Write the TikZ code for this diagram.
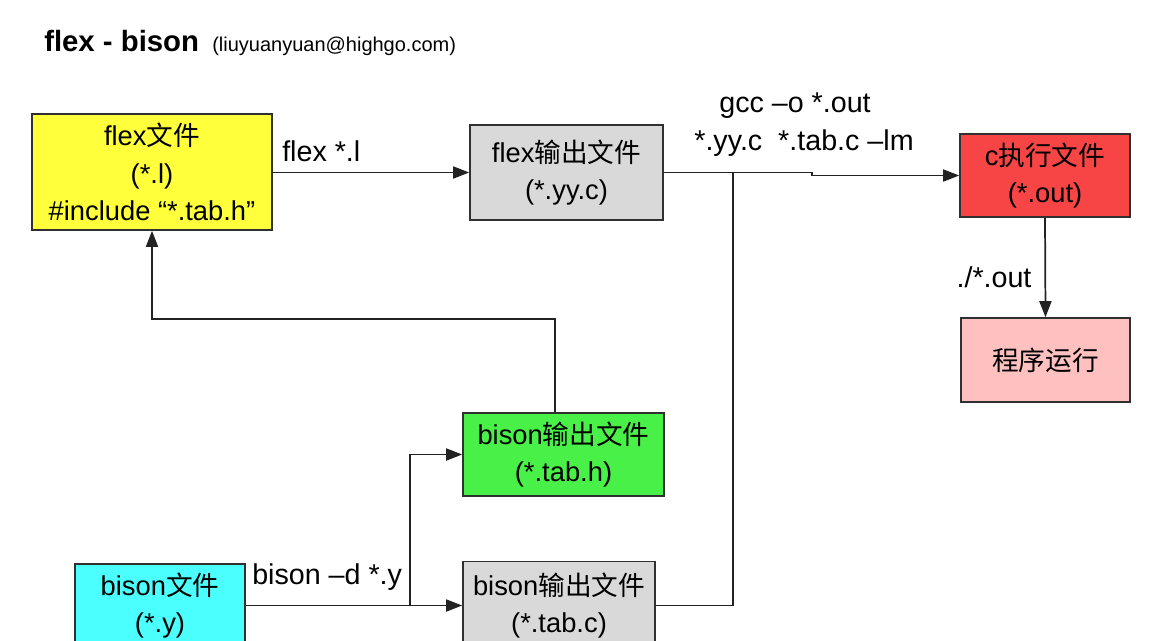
\documentclass[tikz,border=0pt]{standalone}
\usepackage{fontspec}
\setmainfont{Liberation Sans}
\newfontfamily\cjk{Noto Sans CJK SC}
\usetikzlibrary{arrows.meta}
\definecolor{fbink}{HTML}{303030}
\definecolor{fbline}{HTML}{222222}
\definecolor{fbyellow}{HTML}{FFFF3C}
\definecolor{fbgray}{HTML}{D9D9D9}
\definecolor{fbred}{HTML}{F74545}
\definecolor{fbpink}{HTML}{FFC0C0}
\definecolor{fbgreen}{HTML}{48F048}
\definecolor{fbcyan}{HTML}{4CFFFF}
\tikzset{
  fbbox/.style={
    draw=fbink,
    line width=1.2pt,
    align=center,
    inner sep=0pt,
    font=\fontsize{20.5}{28}\selectfont,
    text=black
  },
  fbedge/.style={
    -{Triangle[length=12pt,width=9pt]},
    line width=1.3pt,
    color=fbline
  },
  fbwire/.style={
    line width=1.3pt,
    color=fbline
  },
  fblabel/.style={
    font=\fontsize{21.5}{26}\selectfont,
    text=black,
    inner sep=0pt
  }
}

\begin{document}
\begin{tikzpicture}[x=0.75pt,y=-0.75pt]
  \useasboundingbox (0,0) rectangle (1174,640);
  \clip (0,0) rectangle (1174,640);

  % title
  \node[anchor=base west, inner sep=0pt, font=\fontsize{22}{26}\selectfont\bfseries] (title) at (44,51) {flex - bison};
  \node[anchor=base west, inner sep=0pt, font=\fontsize{15}{18}\selectfont] (author) at (212,51) {(liuyuanyuan@highgo.com)};

  % boxes
  \node[fbbox, fill=fbyellow, minimum width=180pt, minimum height=87pt] (flexfile) at (152,172) {flex{\cjk\fontsize{20}{28}\selectfont 文件}\\(*.l)\\\#include “*.tab.h”};
  \node[fbbox, fill=fbgray, minimum width=144.75pt, minimum height=71.25pt] (flexout) at (566.5,172.5) {flex{\cjk\fontsize{20}{28}\selectfont 输出文件}\\(*.yy.c)};
  \node[fbbox, fill=fbred, minimum width=127.5pt, minimum height=62.25pt] (cexec) at (1045,175.5) {c{\cjk\fontsize{20}{28}\selectfont 执行文件}\\(*.out)};
  \node[fbbox, fill=fbpink, minimum width=126.75pt, minimum height=63pt] (run) at (1045.5,360) {{\cjk\fontsize{20}{28}\selectfont 程序运行}};
  \node[fbbox, fill=fbgreen, minimum width=150.75pt, minimum height=62.25pt] (bisonh) at (563.5,454.5) {bison{\cjk\fontsize{20}{28}\selectfont 输出文件}\\(*.tab.h)};
  \node[fbbox, fill=fbcyan, minimum width=127.5pt, minimum height=62.25pt] (bisonfile) at (160,605.5) {bison{\cjk\fontsize{20}{28}\selectfont 文件}\\(*.y)};
  \node[fbbox, fill=fbgray, minimum width=144pt, minimum height=66pt] (bisonc) at (559,605.5) {bison{\cjk\fontsize{20}{28}\selectfont 输出文件}\\(*.tab.c)};

  % labels
  \node[fblabel, anchor=west] (flexcmd) at (282,151) {flex *.l};
  \node[fblabel] (gcccmd) at (795,106) {gcc --o *.out};
  \node[fblabel] (gccargs) at (804,143) {*.yy.c\ \ *.tab.c --lm};
  \node[fblabel] (runcmd) at (994,277) {./*.out};
  \node[fblabel, anchor=west] (bisoncmd) at (252,577) {bison --d *.y};

  % connectors
  \coordinate (gccjog) at (812,172.5);
  \coordinate (gccjoin) at (733,172.5);
  \coordinate (bisonsplit) at (410,605.5);
  \draw[fbedge] (flexfile.east |- flexout.west) -- (flexout.west);
  \draw[fbedge] (flexout.east) -- (gccjog) |- (cexec.west);
  \draw[fbwire] (bisonc.east) -| (gccjoin);
  \draw[fbedge] (cexec.south) -- (run.north);
  \draw[fbedge] ([xshift=-6.4pt]bisonh.north) -- ++(0,-93) -| (flexfile.south);
  \draw[fbedge] (bisonfile.east) -- (bisonc.west);
  \draw[fbedge] (bisonsplit) |- (bisonh.west);
\end{tikzpicture}
\end{document}
